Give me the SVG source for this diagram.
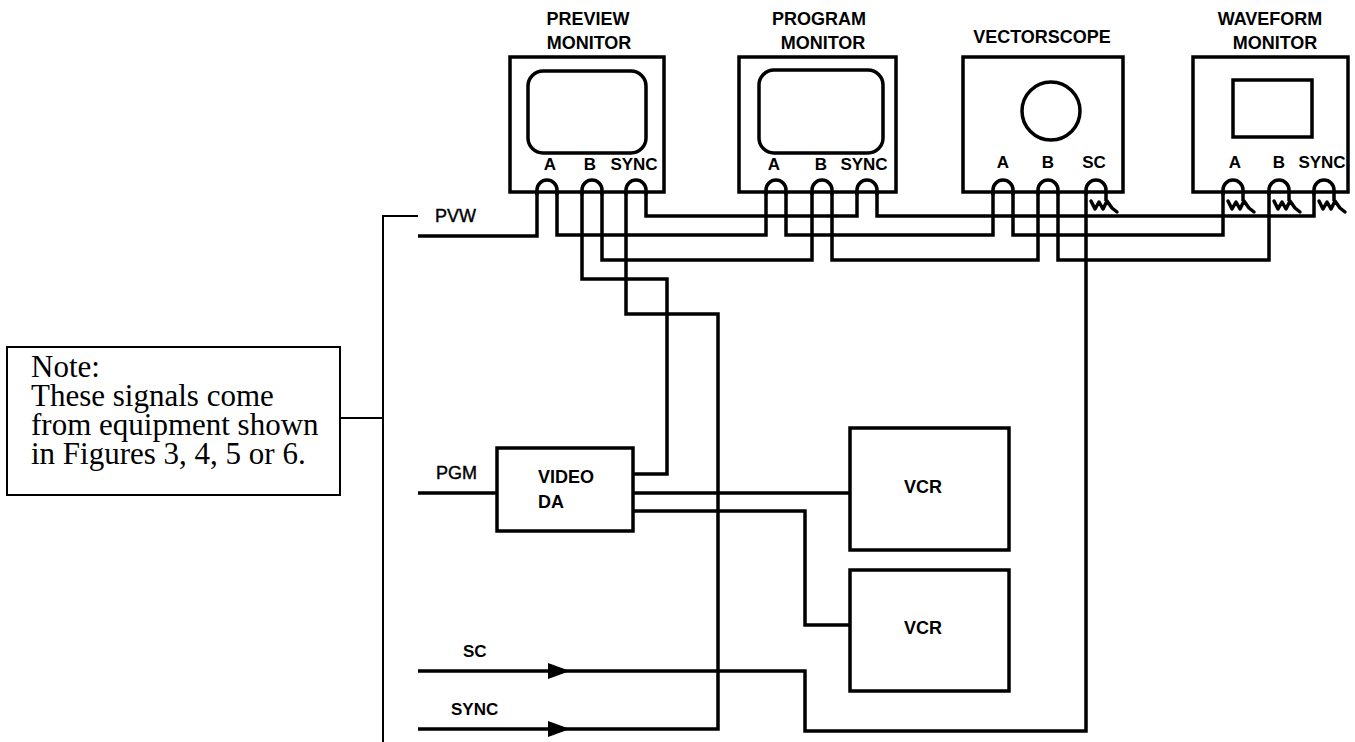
<svg xmlns="http://www.w3.org/2000/svg" width="1355" height="742" viewBox="0 0 1355 742">
<style>
  .box{fill:#fff;stroke:#000;stroke-width:3.5}
  .scr{fill:none;stroke:#000;stroke-width:3.5}
  .w{fill:none;stroke:#000;stroke-width:3.5;stroke-linejoin:miter}
  .thin{fill:none;stroke:#000;stroke-width:2}
  .term{fill:none;stroke:#000;stroke-width:3.5;stroke-linejoin:round;stroke-linecap:round}
  .lbl{font-family:"Liberation Sans",Arial,sans-serif;font-weight:bold;font-size:18px;fill:#000}
  .port{font-family:"Liberation Sans",Arial,sans-serif;font-weight:bold;font-size:17px;fill:#000;text-anchor:middle}
  .sig{font-family:"Liberation Sans",Arial,sans-serif;font-size:18px;fill:#000;stroke:#000;stroke-width:0.4}
  .note{font-family:"Liberation Serif","Times New Roman",serif;font-size:31px;fill:#000}
  .mid{text-anchor:middle}
</style>
<defs>
  <path id="arrow" d="M-22,-8 L0,0 L-22,8 Z" fill="#000"/>
  <path id="zz" d="M-15,201 L-11,209 L-7,202 L-3,209 L1,201 L6,208 L11,212" class="term"/>
</defs>
<rect width="1355" height="742" fill="#fff"/>

<g id="connectors">
  <path class="w" d="M418,236 H537 V192"/>
  <path class="w" d="M557,192 V235 H766 V192"/>
  <path class="w" d="M786,192 V235 H993 V192"/>
  <path class="w" d="M1013,192 V235 H1223 V192"/>
  <path class="w" d="M633,474 H667 V279 H582 V192"/>
  <path class="w" d="M602,192 V260 H812 V192"/>
  <path class="w" d="M832,192 V260 H1038 V192"/>
  <path class="w" d="M1058,192 V260 H1269 V192"/>
  <path class="w" d="M418,729 H718 V314 H626 V192"/>
  <path class="w" d="M646,192 V216 H857 V192"/>
  <path class="w" d="M877,192 V216 H1314 V192"/>
  <path class="w" d="M418,671 H805 V731 H1086 V192"/>
  <path class="w" d="M633,493 H850"/>
  <path class="w" d="M633,511 H805 V625 H850"/>
  <path class="w" d="M418,493 H497"/>
  <use href="#arrow" x="570" y="671"/>
  <use href="#arrow" x="570" y="729"/>
  <path class="thin" d="M418,216 H383 V742"/>
  <path class="thin" d="M340,418 H383"/>
</g>

<g id="preview-monitor">
  <text class="lbl mid" x="588" y="25">PREVIEW</text>
  <text class="lbl mid" x="589" y="49">MONITOR</text>
  <rect class="box" x="510" y="57" width="154" height="135"/>
  <rect class="scr" x="528" y="71" width="118" height="82" rx="15"/>
  <text class="port" x="550" y="170">A</text>
  <text class="port" x="590" y="170">B</text>
  <text class="port" x="634" y="170">SYNC</text>
  <path class="w" d="M537,195 V190 A10,10 0 0 1 557,190 V195"/>
  <path class="w" d="M582,195 V190 A10,10 0 0 1 602,190 V195"/>
  <path class="w" d="M626,195 V190 A10,10 0 0 1 646,190 V195"/>
</g>

<g id="program-monitor">
  <text class="lbl mid" x="819" y="25">PROGRAM</text>
  <text class="lbl mid" x="823" y="49">MONITOR</text>
  <rect class="box" x="739" y="57" width="157" height="135"/>
  <rect class="scr" x="759" y="70" width="124" height="83" rx="15"/>
  <text class="port" x="774" y="170">A</text>
  <text class="port" x="821" y="170">B</text>
  <text class="port" x="864" y="170">SYNC</text>
  <path class="w" d="M766,195 V190 A10,10 0 0 1 786,190 V195"/>
  <path class="w" d="M812,195 V190 A10,10 0 0 1 832,190 V195"/>
  <path class="w" d="M857,195 V190 A10,10 0 0 1 877,190 V195"/>
</g>

<g id="vectorscope">
  <text class="lbl mid" x="1042" y="43">VECTORSCOPE</text>
  <rect class="box" x="963" y="57" width="160" height="135"/>
  <circle class="scr" cx="1051" cy="111" r="29"/>
  <text class="port" x="1003" y="168">A</text>
  <text class="port" x="1048" y="168">B</text>
  <text class="port" x="1094" y="168">SC</text>
  <path class="w" d="M993,195 V190 A10,10 0 0 1 1013,190 V195"/>
  <path class="w" d="M1038,195 V190 A10,10 0 0 1 1058,190 V195"/>
  <path class="w" d="M1086,195 V190 A10,10 0 0 1 1106,190 V201"/>
  <use href="#zz" x="1106" y="0"/>
</g>

<g id="waveform-monitor">
  <text class="lbl mid" x="1270" y="25">WAVEFORM</text>
  <text class="lbl mid" x="1275" y="49">MONITOR</text>
  <rect class="box" x="1193" y="57" width="155" height="135"/>
  <rect class="scr" x="1233" y="80" width="79" height="57"/>
  <text class="port" x="1235" y="168">A</text>
  <text class="port" x="1279" y="168">B</text>
  <text class="port" x="1322" y="168">SYNC</text>
  <path class="w" d="M1223,195 V190 A10,10 0 0 1 1243,190 V201"/>
  <path class="w" d="M1269,195 V190 A10,10 0 0 1 1289,190 V201"/>
  <path class="w" d="M1314,195 V190 A10,10 0 0 1 1334,190 V201"/>
  <use href="#zz" x="1243" y="0"/>
  <use href="#zz" x="1289" y="0"/>
  <use href="#zz" x="1334" y="0"/>
</g>

<g id="video-da">
  <rect class="box" x="497" y="448" width="136" height="83"/>
  <text class="lbl" x="538" y="483">VIDEO</text>
  <text class="lbl" x="538" y="508">DA</text>
</g>

<g id="vcr-1">
  <rect class="box" x="850" y="428" width="159" height="122"/>
  <text class="lbl mid" x="923" y="493">VCR</text>
</g>

<g id="vcr-2">
  <rect class="box" x="850" y="570" width="159" height="121"/>
  <text class="lbl mid" x="923" y="634">VCR</text>
</g>

<g id="signal-labels">
  <text class="sig" x="435" y="222">PVW</text>
  <text class="sig" x="436" y="479">PGM</text>
  <text class="lbl" x="463" y="657" style="font-size:17px">SC</text>
  <text class="lbl" x="451" y="715" style="font-size:17px">SYNC</text>
</g>

<g id="note">
  <rect x="7" y="347" width="333" height="148" fill="#fff" stroke="#000" stroke-width="2"/>
  <text class="note" x="31" y="377">Note:</text>
  <text class="note" x="31" y="406">These signals come</text>
  <text class="note" x="31" y="435">from equipment shown</text>
  <text class="note" x="31" y="464">in Figures 3, 4, 5 or 6.</text>
</g>
</svg>
